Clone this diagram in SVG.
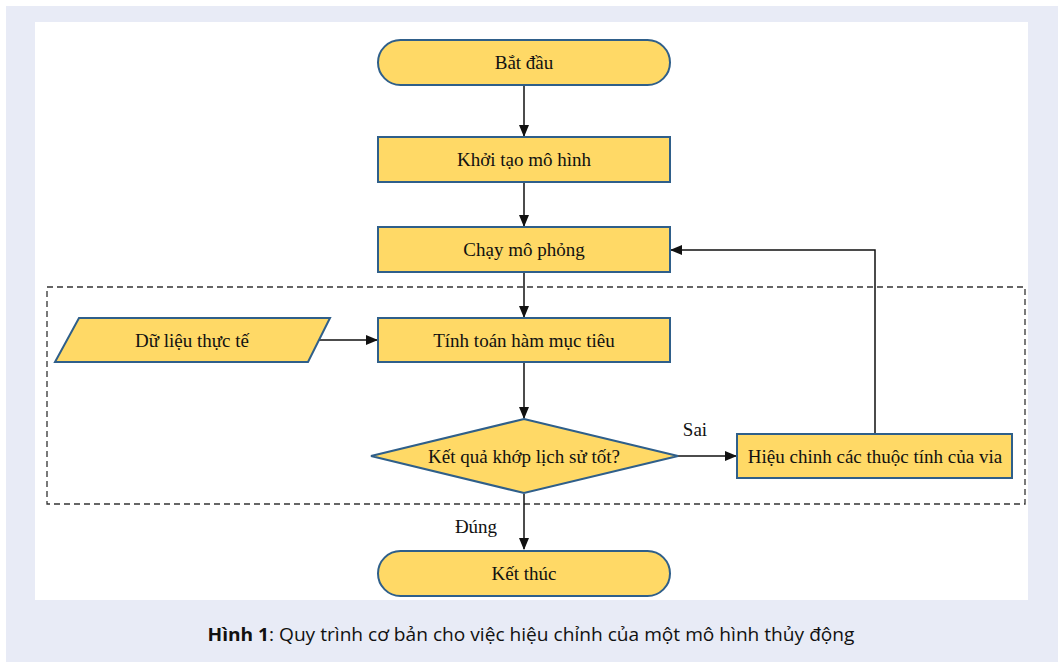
<svg xmlns="http://www.w3.org/2000/svg" width="1058" height="662" viewBox="0 0 1058 662">
<style>
.shape{fill:#FFD966;stroke:#2F5F8A;stroke-width:2}
.lbl{font-family:"Liberation Serif","Times New Roman",serif;font-size:19px;fill:#111;text-anchor:middle;dominant-baseline:central}
.con{stroke:#111;stroke-width:1.5;fill:none}
.cap{font-family:"Open Sans","Noto Sans",sans-serif;font-size:18px;fill:#111;text-anchor:middle}
</style>
<defs>
<marker id="ah" markerWidth="12" markerHeight="10" refX="11" refY="5" orient="auto" markerUnits="userSpaceOnUse">
<path d="M0,0 L12,5 L0,10 Z" fill="#111"/>
</marker>
</defs>
<rect x="0" y="0" width="1058" height="662" fill="#ffffff"/>
<rect x="6" y="6" width="1052" height="656" fill="#E8EBF6"/>
<rect x="35" y="22" width="993" height="578" fill="#ffffff"/>
<rect x="47" y="287" width="978" height="217" fill="none" stroke="#333" stroke-width="1.3" stroke-dasharray="6,4"/>
<g id="connectors">
<line class="con" x1="524" y1="85" x2="524" y2="136" marker-end="url(#ah)"/>
<line class="con" x1="524" y1="183" x2="524" y2="226" marker-end="url(#ah)"/>
<line class="con" x1="524" y1="273" x2="524" y2="317" marker-end="url(#ah)"/>
<line class="con" x1="318" y1="340" x2="377" y2="340" marker-end="url(#ah)"/>
<line class="con" x1="524" y1="363" x2="524" y2="418" marker-end="url(#ah)"/>
<line class="con" x1="678" y1="456" x2="736" y2="456" marker-end="url(#ah)"/>
<polyline class="con" points="875,433 875,250 671,250" marker-end="url(#ah)"/>
<line class="con" x1="524" y1="494" x2="524" y2="549" marker-end="url(#ah)"/>
<text class="lbl" x="695" y="429">Sai</text>
<text class="lbl" x="476" y="526">Đúng</text>
</g>
<g id="start">
<rect class="shape" x="378" y="40" width="292" height="45" rx="22.5"/>
<text class="lbl" x="524" y="62">Bắt đầu</text>
</g>
<g id="init">
<rect class="shape" x="378" y="137" width="292" height="45"/>
<text class="lbl" x="524" y="159">Khởi tạo mô hình</text>
</g>
<g id="run">
<rect class="shape" x="378" y="227" width="292" height="45"/>
<text class="lbl" x="524" y="249">Chạy mô phỏng</text>
</g>
<g id="data">
<polygon class="shape" points="79,318 330,318 308,362 55,362"/>
<text class="lbl" x="192" y="340">Dữ liệu thực tế</text>
</g>
<g id="objective">
<rect class="shape" x="378" y="318" width="292" height="44"/>
<text class="lbl" x="524" y="340">Tính toán hàm mục tiêu</text>
</g>
<g id="decision">
<polygon class="shape" points="524,419 678,456 524,493 371,456"/>
<text class="lbl" x="524" y="456">Kết quả khớp lịch sử tốt?</text>
</g>
<g id="adjust">
<rect class="shape" x="737" y="434" width="275" height="44"/>
<text class="lbl" x="875" y="456">Hiệu chinh các thuộc tính của via</text>
</g>
<g id="end">
<rect class="shape" x="378" y="551" width="292" height="45" rx="22.5"/>
<text class="lbl" x="524" y="573">Kết thúc</text>
</g>
<text class="cap" x="531" y="641" textLength="647" lengthAdjust="spacingAndGlyphs"><tspan font-weight="bold">Hình 1</tspan>: Quy trình cơ bản cho việc hiệu chỉnh của một mô hình thủy động</text>
</svg>
